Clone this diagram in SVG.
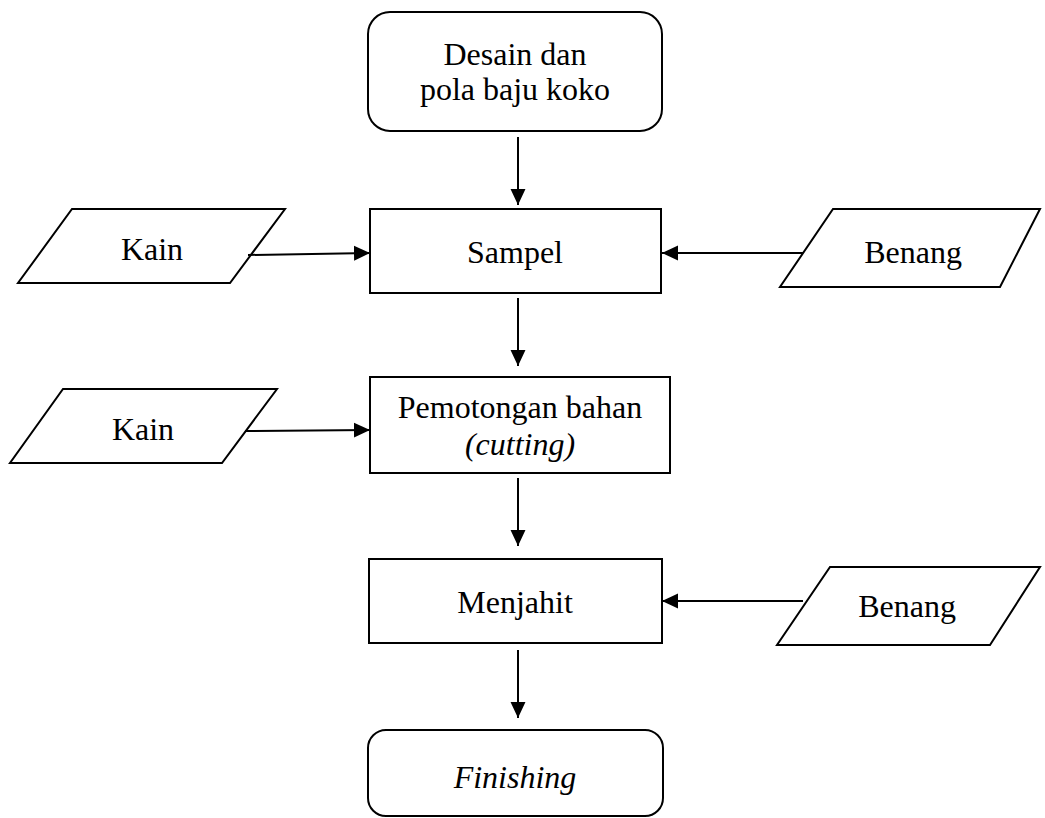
<svg xmlns="http://www.w3.org/2000/svg" width="1045" height="818" viewBox="0 0 1045 818">
<style>
.s{fill:#fff;stroke:#000;stroke-width:2}
.t{font-family:"Liberation Serif","Times New Roman",serif;font-size:32px;fill:#000;text-anchor:middle}
.i{font-style:italic}
.c{fill:none;stroke:#000;stroke-width:2}
</style>
<defs>
<marker id="ah" markerUnits="userSpaceOnUse" markerWidth="16" markerHeight="16" viewBox="0 0 15 14" refX="15" refY="7" orient="auto">
<path d="M0,0 L15,7 L0,14 Z" fill="#000"/>
</marker>
</defs>
<rect width="1045" height="818" fill="#fff"/>
<g id="n-desain"><rect class="s" x="368" y="12" width="294" height="119" rx="22"/><text class="t" x="515" y="65">Desain dan</text><text class="t" x="515" y="100">pola baju koko</text></g>
<g id="n-sampel"><rect class="s" x="370" y="209" width="291" height="84"/><text class="t" x="515" y="263">Sampel</text></g>
<g id="n-kain1"><polygon class="s" points="72,209 285,209 230,283 18,283"/><text class="t" x="152" y="260">Kain</text></g>
<g id="n-benang1"><polygon class="s" points="833,209 1040,209 1000,287 780,287"/><text class="t" x="913" y="263">Benang</text></g>
<g id="n-potong"><rect class="s" x="370" y="377" width="300" height="96"/><text class="t" x="520" y="418">Pemotongan bahan</text><text class="t i" x="520" y="455">(cutting)</text></g>
<g id="n-kain2"><polygon class="s" points="63,389 277,389 222,463 10,463"/><text class="t" x="143" y="440">Kain</text></g>
<g id="n-menjahit"><rect class="s" x="369" y="559" width="293" height="84"/><text class="t" x="515" y="613">Menjahit</text></g>
<g id="n-benang2"><polygon class="s" points="830,567 1040,567 990,645 777,645"/><text class="t" x="907" y="617">Benang</text></g>
<g id="n-finishing"><rect class="s" x="368" y="730" width="295" height="86" rx="18"/><text class="t i" x="515" y="788">Finishing</text></g>
<g id="connectors">
<line class="c" x1="518" y1="137" x2="518" y2="205" marker-end="url(#ah)"/>
<line class="c" x1="518" y1="298" x2="518" y2="366" marker-end="url(#ah)"/>
<line class="c" x1="518" y1="478" x2="518" y2="546" marker-end="url(#ah)"/>
<line class="c" x1="518" y1="650" x2="518" y2="718" marker-end="url(#ah)"/>
<line class="c" x1="248" y1="255" x2="370" y2="253" marker-end="url(#ah)"/>
<line class="c" x1="245" y1="431" x2="370" y2="430" marker-end="url(#ah)"/>
<line class="c" x1="803" y1="253" x2="662" y2="253" marker-end="url(#ah)"/>
<line class="c" x1="803" y1="601" x2="662" y2="601" marker-end="url(#ah)"/>
</g>
</svg>
